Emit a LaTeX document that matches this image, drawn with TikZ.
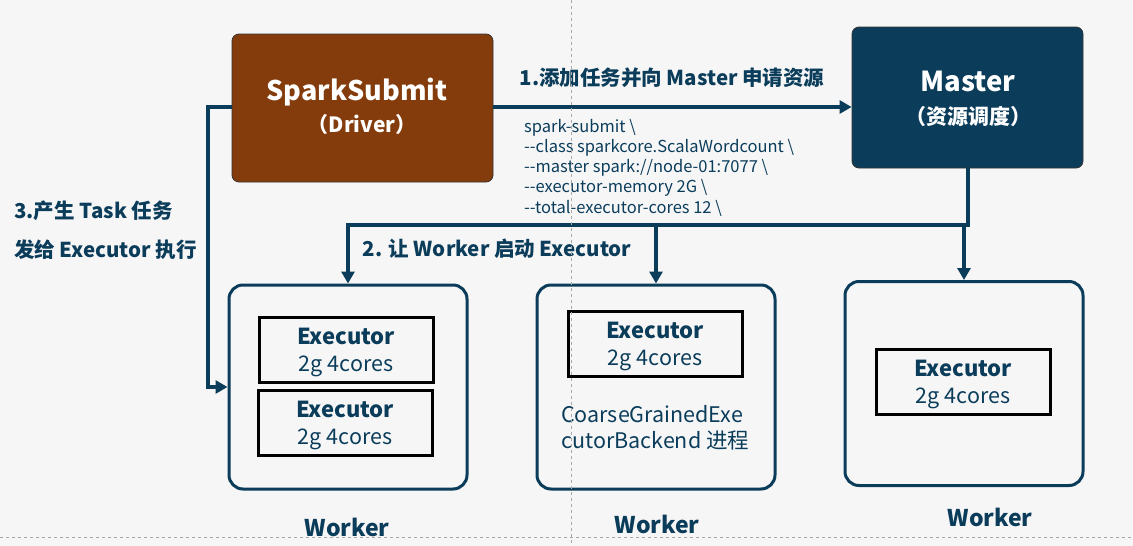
\documentclass[tikz,border=0pt]{standalone}
\usepackage{fontspec}
\setmainfont{Noto Sans CJK SC}
\usetikzlibrary{arrows.meta}
\definecolor{navy}{HTML}{0B3D5B}
\definecolor{sbrown}{HTML}{843C0C}
\definecolor{bgc}{HTML}{F6F6F7}
\definecolor{guide}{HTML}{A8A8A8}
\tikzset{
  topbox/.style={draw=black!80, line width=0.8pt, rounded corners=7pt, text=white, align=center, inner sep=0pt},
  workerbox/.style={draw=navy, line width=3pt, rounded corners=14pt, minimum width=238pt, minimum height=204pt, inner sep=0pt},
  execbox/.style={draw=black, line width=3pt, minimum width=174pt, minimum height=65pt, align=center, text=navy, inner sep=0pt, font=\fontsize{22}{27}\selectfont},
  line/.style={draw=navy, line width=4pt},
  conn/.style={draw=navy, line width=4pt, -{Triangle[length=12pt,width=13pt]}},
  lbl/.style={text=navy, font=\fontsize{20.5}{24}\selectfont\bfseries, inner sep=0pt},
  wlbl/.style={text=navy, font=\fontsize{23}{27}\selectfont\bfseries, inner sep=0pt},
}
\newcommand{\exectext}{\rule{0pt}{22pt}{\bfseries Executor}\\{\fontsize{21.5}{27}\selectfont 2g 4cores}}
\newcommand{\dd}{-{}-}
\begin{document}
\begin{tikzpicture}[x=1pt,y=-1pt]
\fill[bgc] (0,0) rectangle (1133,546);
\useasboundingbox (0,0) rectangle (1133,546);

% top boxes
\node[topbox, fill=sbrown, minimum width=261pt, minimum height=148pt] (ss) at (362.5,108) {};
\node[text=white, font=\fontsize{27}{30}\selectfont\bfseries, inner sep=0pt] (sst) at (357,92) {SparkSubmit};
\node[text=white, font=\fontsize{21}{24}\selectfont\bfseries, inner sep=0pt] (ssd) at (362,125) {（Driver）};

\node[topbox, fill=navy, minimum width=231pt, minimum height=141pt] (master) at (967.5,97.5) {};
\node[text=white, font=\fontsize{27.5}{30}\selectfont\bfseries, inner sep=0pt] (mt) at (968,81) {Master};
\node[text=white, font=\fontsize{21}{24}\selectfont\bfseries, inner sep=0pt] (md) at (968,117) {（资源调度）};

% workers
\node[workerbox] (w1) at (348,387) {};
\node[workerbox] (w2) at (656,387) {};
\node[workerbox] (w3) at (964,383.5) {};

\node[wlbl] (w1l) at (347,527) {Worker};
\node[wlbl] (w2l) at (657,524) {Worker};
\node[wlbl] (w3l) at (990,517) {Worker};

% executors
\node[execbox] (e1) at (346,349.5) {\exectext};
\node[execbox] (e2) at (345,422.5) {\exectext};
\node[execbox] (e3) at (655,343.5) {\exectext};
\node[execbox] (e4) at (963,381.5) {\exectext};

\node[text=navy, align=left, anchor=north west, inner sep=0pt, font=\fontsize{21.5}{26}\selectfont] (cg) at (561,405) {CoarseGrainedExe\\cutorBackend 进程};

% arrow 1
\draw[conn] (ss.east |- 0,107) -- (master.west |- 0,107);
\node[lbl] (l1) at (672,78) {1.添加任务并向 Master 申请资源};
\node[text=navy, align=left, anchor=north west, inner sep=0pt, font=\fontsize{16.5}{20.2}\selectfont] (code) at (524,119)
  {spark-submit \textbackslash\\\dd class sparkcore.ScalaWordcount \textbackslash\\\dd master spark://node-01:7077 \textbackslash\\\dd executor-memory 2G \textbackslash\\\dd total-executor-cores 12 \textbackslash};

% master to workers
\coordinate (mj) at (968,225);
\draw[line, line cap=rect] (master.south) -- (master.south |- mj) -- (w1.north |- mj);
\draw[conn] (w1.north |- mj) -- (w1.north);
\draw[conn] (w2.north |- mj) -- (w2.north);
\draw[conn] (w3.north |- mj) -- (w3.north);
\node[lbl] (l2) at (497,249) {2. 让 Worker 启动 Executor};

% driver to executor
\coordinate (lx) at (208,0);
\draw[conn] (ss.west |- 0,107) -- (lx |- 0,107) |- (w1.west);
\node[lbl, anchor=west] (l3a) at (14,211) {3.产生 Task 任务};
\node[lbl, anchor=west] (l3b) at (14,250) {发给 Executor 执行};

% guide lines
\draw[guide, dashed, line width=0.8pt] (571,0) -- (571,546);
\draw[guide, dashed, line width=0.8pt] (0,537) -- (1133,537);
\end{tikzpicture}
\end{document}
